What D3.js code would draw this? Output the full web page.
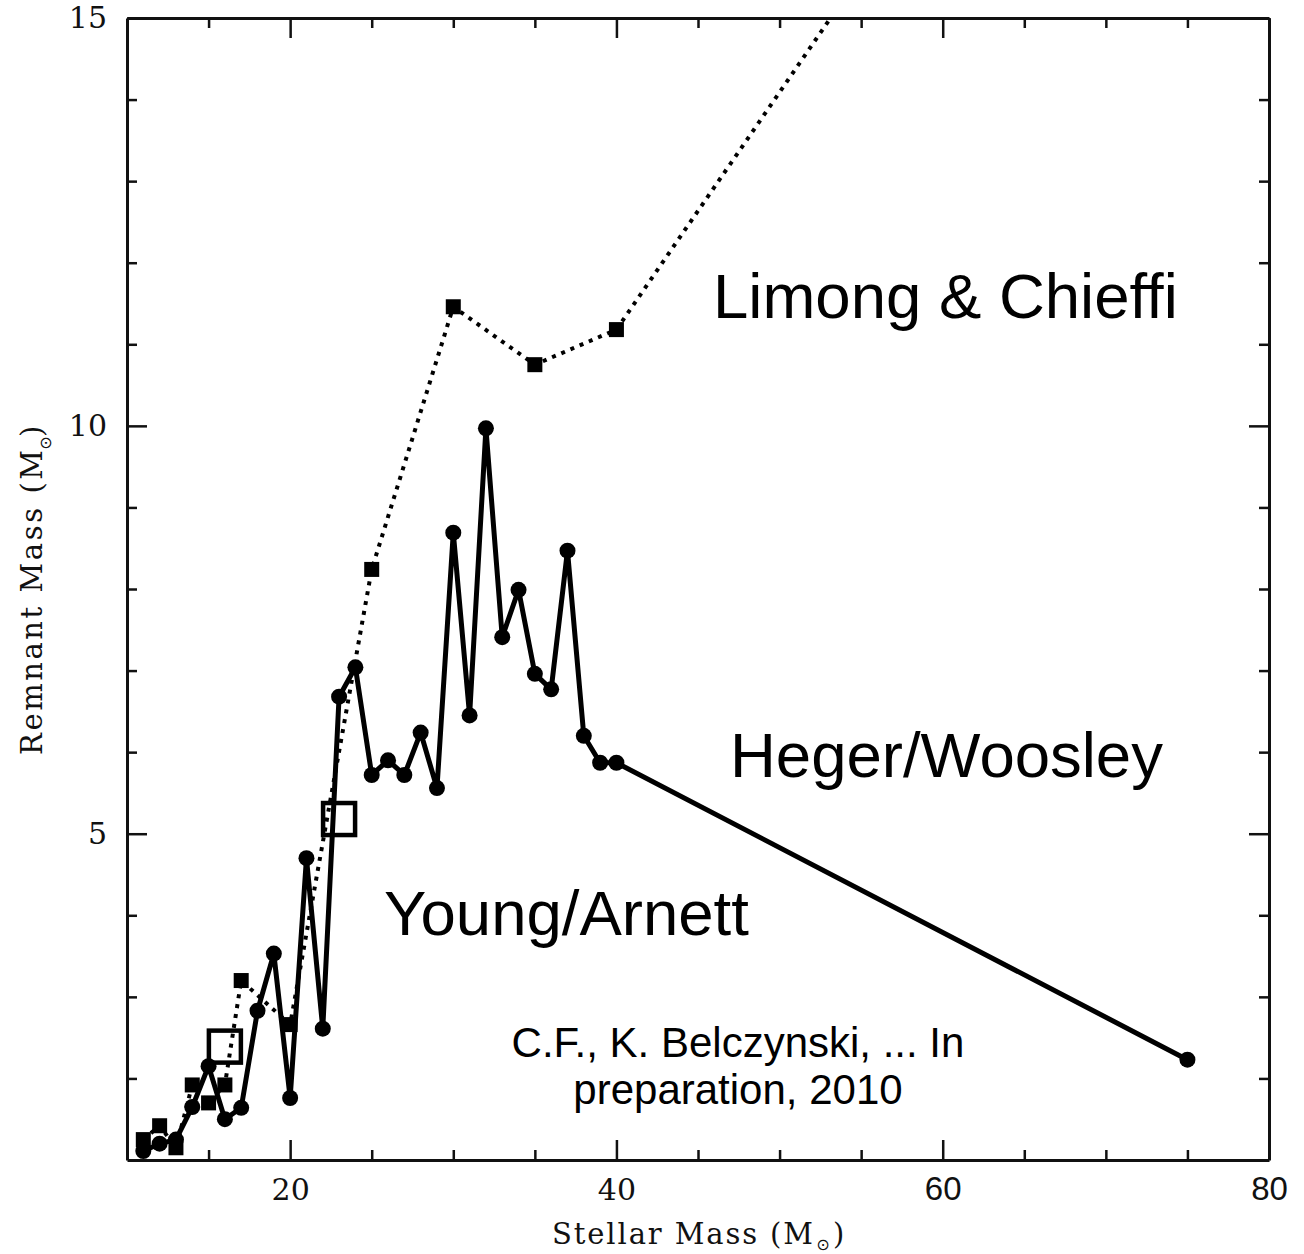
<!DOCTYPE html>
<html>
<head>
<meta charset="utf-8">
<script src="https://cdn.jsdelivr.net/npm/d3@7"></script>
<style>
  html, body { margin: 0; padding: 0; background: #fff; }
  svg { display: block; }
</style>
</head>
<body>
<div id="chart"></div>
<script>
// Remnant mass versus initial stellar mass for three sets of supernova models.

// Limongi & Chieffi (dotted line, filled squares)
const massLC    = [11, 12, 13, 14, 15, 16, 17, 20, 25, 30, 35, 40, 60];
const remnantLC = [1.25, 1.42, 1.15, 1.92, 1.70, 1.92, 3.20, 2.66, 8.24, 11.46, 10.75, 11.18, 17.0];

// Heger/Woosley (solid line, filled circles)
const massHW    = [11, 12, 13, 14, 15, 16, 17, 18, 19, 20, 21, 22, 23, 24, 25, 26, 27, 28, 29, 30,
                   31, 32, 33, 34, 35, 36, 37, 38, 39, 40, 75];
const remnantHW = [1.11, 1.20, 1.25, 1.65, 2.15, 1.50, 1.64, 2.83, 3.53, 1.76, 4.70, 2.61, 6.68, 7.04, 5.72, 5.90, 5.72, 6.24, 5.56, 8.69,
                   6.45, 9.97, 7.41, 7.99, 6.96, 6.77, 8.47, 6.20, 5.87, 5.87, 2.23];

// Young/Arnett (large open squares)
const massYA    = [16, 23];
const remnantYA = [2.39, 5.18];

// Axis ticks
const xMajorTicks = [20, 40, 60, 80];
const xMinorTicks = [15, 25, 30, 35, 45, 50, 55, 65, 70, 75];
const yMajorTicks = [5, 10, 15];
const yMinorTicks = [2, 3, 4, 6, 7, 8, 9, 11, 12, 13, 14];
const sansTickLabels = [60, 80];

const W = 1304, H = 1254;
const plot = { left: 127, right: 1269, top: 18, bottom: 1160 };

const svg = d3.select("#chart").append("svg")
  .attr("width", W).attr("height", H)
  .style("background", "#fff");

const x = d3.scaleLinear().domain([10, 80]).range([plot.left, plot.right]);
const y = d3.scaleLinear().domain([1, 15]).range([plot.bottom, plot.top]);

svg.append("defs").append("clipPath").attr("id", "plot-area")
  .append("rect")
  .attr("x", plot.left).attr("y", plot.top)
  .attr("width", plot.right - plot.left).attr("height", plot.bottom - plot.top);

// ---- axes (ticks point into the frame on all four sides) ----
const serif = "'DejaVu Serif', 'Liberation Serif', serif";
const sans = "'Liberation Sans', Arial, Helvetica, sans-serif";

function styleAxis(g, withDomain) {
  g.selectAll(".tick line").attr("stroke", "#111").attr("stroke-width", 2.5);
  if (withDomain) g.select(".domain").attr("stroke", "#111").attr("stroke-width", 3);
  else g.select(".domain").remove();
}

// bottom
const gBottom = svg.append("g").attr("transform", `translate(0,${plot.bottom})`)
  .call(d3.axisBottom(x).tickValues(xMajorTicks).tickSizeInner(-20).tickSizeOuter(0).tickPadding(20).tickFormat(d3.format("d")));
styleAxis(gBottom, true);
gBottom.selectAll(".tick text")
  .attr("fill", "#111")
  .style("font-family", d => sansTickLabels.includes(d) ? sans : serif)
  .style("font-size", d => sansTickLabels.includes(d) ? "33px" : "30px")
  .attr("y", d => sansTickLabels.includes(d) ? 17 : 19);
styleAxis(svg.append("g").attr("transform", `translate(0,${plot.bottom})`)
  .call(d3.axisBottom(x).tickValues(xMinorTicks).tickSizeInner(-10).tickSizeOuter(0).tickFormat("")), false);

// top
styleAxis(svg.append("g").attr("transform", `translate(0,${plot.top})`)
  .call(d3.axisTop(x).tickValues(xMajorTicks).tickSizeInner(-20).tickSizeOuter(0).tickFormat("")), true);
styleAxis(svg.append("g").attr("transform", `translate(0,${plot.top})`)
  .call(d3.axisTop(x).tickValues(xMinorTicks).tickSizeInner(-10).tickSizeOuter(0).tickFormat("")), false);

// left
const gLeft = svg.append("g").attr("transform", `translate(${plot.left},0)`)
  .call(d3.axisLeft(y).tickValues(yMajorTicks).tickSizeInner(-20).tickSizeOuter(0).tickPadding(20).tickFormat(d3.format("d")));
styleAxis(gLeft, true);
gLeft.selectAll(".tick text").attr("fill", "#111").style("font-family", serif).style("font-size", "30px");
styleAxis(svg.append("g").attr("transform", `translate(${plot.left},0)`)
  .call(d3.axisLeft(y).tickValues(yMinorTicks).tickSizeInner(-10).tickSizeOuter(0).tickFormat("")), false);

// right
styleAxis(svg.append("g").attr("transform", `translate(${plot.right},0)`)
  .call(d3.axisRight(y).tickValues(yMajorTicks).tickSizeInner(-20).tickSizeOuter(0).tickFormat("")), true);
styleAxis(svg.append("g").attr("transform", `translate(${plot.right},0)`)
  .call(d3.axisRight(y).tickValues(yMinorTicks).tickSizeInner(-10).tickSizeOuter(0).tickFormat("")), false);

// ---- axis titles ----
const xt = svg.append("g").attr("transform", "translate(552,1244)").attr("fill", "#111");
xt.append("text").attr("x", 0).attr("y", 0)
  .attr("textLength", 261).attr("lengthAdjust", "spacing")
  .style("font-family", serif).style("font-size", "29px")
  .text("Stellar Mass (M");
xt.append("text").attr("x", 271).attr("y", 6)
  .attr("text-anchor", "middle")
  .style("font-family", "'DejaVu Sans', sans-serif").style("font-size", "16px")
  .text("\u2299");
xt.append("text").attr("x", 281).attr("y", 0)
  .style("font-family", serif).style("font-size", "29px")
  .text(")");

const yt = svg.append("g").attr("transform", "translate(42,755) rotate(-90)").attr("fill", "#111");
yt.append("text").attr("x", 0).attr("y", 0)
  .attr("textLength", 305).attr("lengthAdjust", "spacing")
  .style("font-family", serif).style("font-size", "29px")
  .text("Remnant Mass (M");
yt.append("text").attr("x", 312).attr("y", 9)
  .attr("text-anchor", "middle")
  .style("font-family", "'DejaVu Sans', sans-serif").style("font-size", "16px")
  .text("\u2299");
yt.append("text").attr("x", 318).attr("y", 0)
  .style("font-family", serif).style("font-size", "29px")
  .text(")");

// ---- data ----
const lc = massLC.map((m, i) => ({ m, r: remnantLC[i] }));
const hw = massHW.map((m, i) => ({ m, r: remnantHW[i] }));
const ya = massYA.map((m, i) => ({ m, r: remnantYA[i] }));

const line = d3.line().x(d => x(d.m)).y(d => y(d.r));
const data = svg.append("g").attr("clip-path", "url(#plot-area)");

// Limongi & Chieffi: dotted
data.append("path").datum(lc)
  .attr("d", line)
  .attr("fill", "none").attr("stroke", "#000")
  .attr("stroke-width", 4).attr("stroke-dasharray", "4,6");
const sq = 15;
data.selectAll("rect.lc").data(lc).join("rect").attr("class", "lc")
  .attr("x", d => x(d.m) - sq / 2).attr("y", d => y(d.r) - sq / 2)
  .attr("width", sq).attr("height", sq).attr("fill", "#000");

// Heger/Woosley: solid with filled circles
data.append("path").datum(hw)
  .attr("d", line)
  .attr("fill", "none").attr("stroke", "#000")
  .attr("stroke-width", 5).attr("stroke-linejoin", "round");
data.selectAll("circle.hw").data(hw).join("circle").attr("class", "hw")
  .attr("cx", d => x(d.m)).attr("cy", d => y(d.r)).attr("r", 8).attr("fill", "#000");

// Young/Arnett: large open squares
const big = 32;
data.selectAll("rect.ya").data(ya).join("rect").attr("class", "ya")
  .attr("x", d => x(d.m) - big / 2).attr("y", d => y(d.r) - big / 2)
  .attr("width", big).attr("height", big)
  .attr("fill", "none").attr("stroke", "#000").attr("stroke-width", 4.5);

// ---- annotations ----
const notes = svg.append("g").attr("fill", "#000").style("font-family", sans);
notes.append("text").attr("x", 713).attr("y", 318).style("font-size", "63.5px").text("Limong & Chieffi");
notes.append("text").attr("x", 730).attr("y", 777).style("font-size", "63.5px").text("Heger/Woosley");
notes.append("text").attr("x", 384).attr("y", 935).style("font-size", "63.5px").text("Young/Arnett");
notes.append("text").attr("x", 738).attr("y", 1057).attr("text-anchor", "middle").style("font-size", "42px")
  .text("C.F., K. Belczynski, ... In");
notes.append("text").attr("x", 738).attr("y", 1104).attr("text-anchor", "middle").style("font-size", "42px")
  .text("preparation, 2010");
</script>
</body>
</html>
